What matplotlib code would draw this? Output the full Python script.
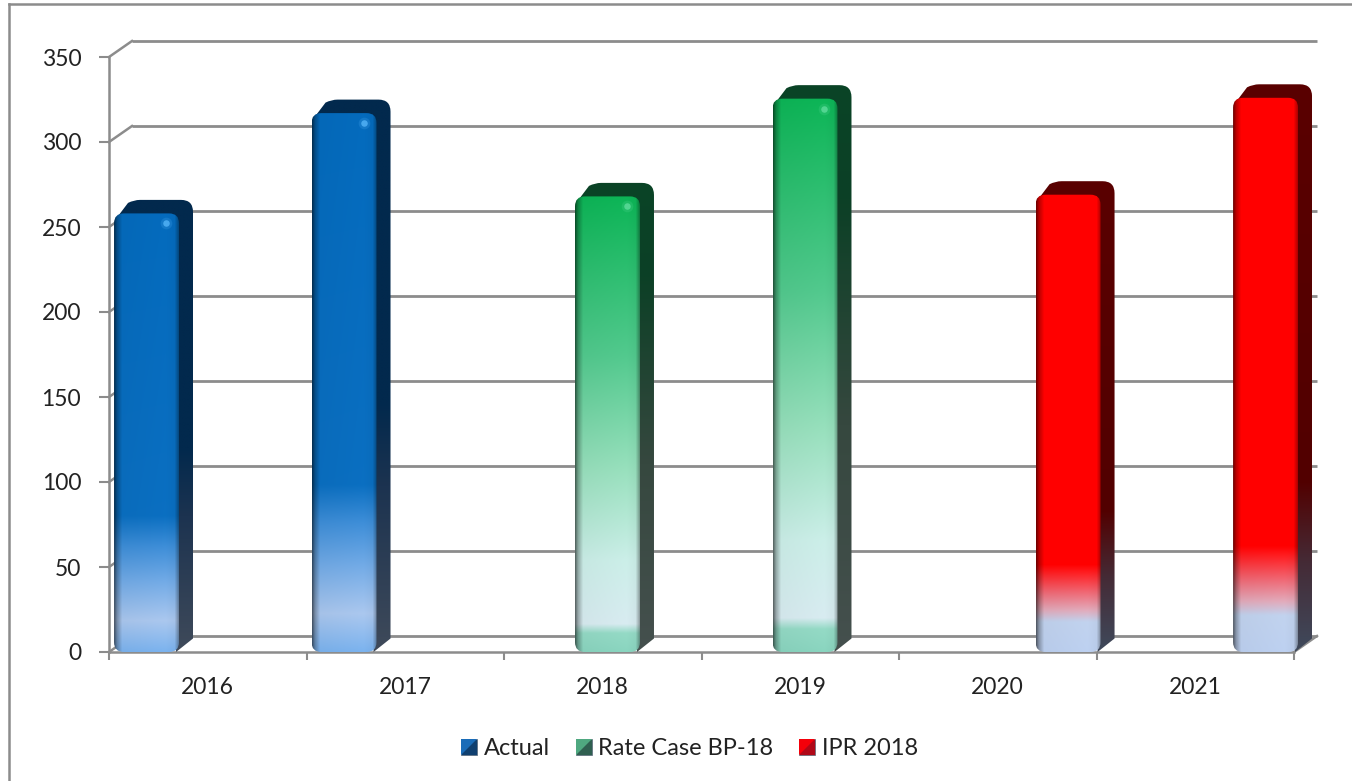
import numpy as np
import matplotlib
matplotlib.use("Agg")
import matplotlib.pyplot as plt
from matplotlib.colors import to_rgb
from matplotlib.legend_handler import HandlerPatch
from matplotlib.lines import Line2D
from matplotlib.patches import FancyBboxPatch, Patch, PathPatch, Polygon, Rectangle
from matplotlib.path import Path
from matplotlib.transforms import Affine2D

plt.rcParams['font.family'] = ['Lato', 'DejaVu Sans']

# data
years = ['2016', '2017', '2018', '2019', '2020', '2021']
actual = [258, 317, None, None, None, None]
rate_case = [None, None, 268, 325.5, None, None]
ipr = [None, None, None, None, 269, 326]
series_names = ['Actual', 'Rate Case BP-18', 'IPR 2018']

# gradient stops, (fraction of bar height, colour)
blue_stops = [(0, '#78aee8'), (0.07, '#a6c2e8'), (0.16, '#6fa6e0'), (0.24, '#3c8ad2'),
              (0.31, '#0a6cbc'), (1, '#0468b8')]
green_stops = [(0, '#86cfba'), (0.04, '#90d4c0'), (0.06, '#d2e5ea'), (0.2, '#c6e8e2'),
               (0.4, '#94dab8'), (0.65, '#50c48a'), (1, '#0cb054')]
red_stops = [(0, '#b8cbea'), (0.065, '#bccde8'), (0.09, '#dca6b6'), (0.13, '#ea6470'),
             (0.19, '#ff0000'), (1, '#ff0000')]
blue_side = [(0, '#3f4a5a'), (0.3, '#1c3350'), (0.45, '#02294d'), (1, '#02294d')]
green_side = [(0, '#45504e'), (0.4, '#36483f'), (0.8, '#0c4026'), (1, '#0a4426')]
red_side = [(0, '#3f4a5c'), (0.16, '#452a35'), (0.3, '#520000'), (1, '#5a0000')]

styles = [
    dict(values=actual, offset=0.19, stops=blue_stops, side=blue_side, spot='#55b4f8',
         swatch=('#1a6cb8', '#0f3f6f')),
    dict(values=rate_case, offset=0.524, stops=green_stops, side=green_side, spot='#5fdc9c',
         swatch=('#4fa880', '#2f5f50')),
    dict(values=ipr, offset=0.856, stops=red_stops, side=red_side, spot=None,
         swatch=('#f4000a', '#b00818')),
]

W, H = 1352, 781
GREY = '#8c8c8c'
TEXT = '#222222'
BAR_WIDTH = 0.329
PX_X = 1 / 197.5   # one pixel in category units
PX_Y = 350 / 595   # one pixel in value units
DEPTH_X, DEPTH_Y = 14, 13.5  # bar depth, pixels


def stops_rgb(stops, n):
    fr = np.linspace(0, 1, n)
    pos = [s[0] for s in stops]
    cols = np.array([to_rgb(s[1]) for s in stops])
    return np.stack([np.interp(fr, pos, cols[:, k]) for k in range(3)], axis=1)


def draw_bar(ax, x0, value, st):
    x1 = x0 + BAR_WIDTH
    dx, dy = DEPTH_X * PX_X, DEPTH_Y * PX_Y

    # side and top of the bar, one outline with a vertical gradient
    side_img = stops_rgb(st['side'], 256)[:, None, :]
    im = ax.imshow(side_img, extent=[x0, x1 + dx, 0, value + dy], origin='lower', aspect='auto',
                   zorder=3, interpolation='bilinear')
    top = value + dy
    verts = [(x1 - 3 * PX_X, 0), (x1 + dx, dy), (x1 + dx, top - 12 * PX_Y),
             (x1 + dx, top), (x1 + dx - 12 * PX_X, top),
             (x0 + 26 * PX_X, top), (x0 + 20 * PX_X, top), (x0 + 14 * PX_X, top - 3 * PX_Y),
             (x0 + 3 * PX_X, value - 4 * PX_Y), (x1 - 3 * PX_X, value - 4 * PX_Y),
             (x1 - 3 * PX_X, 0)]
    codes = [Path.MOVETO, Path.LINETO, Path.LINETO, Path.CURVE3, Path.CURVE3,
             Path.LINETO, Path.CURVE3, Path.CURVE3, Path.LINETO, Path.LINETO, Path.CLOSEPOLY]
    outline = PathPatch(Path(verts, codes), fc='none', ec='none', transform=ax.transData)
    im.set_clip_box(ax.figure.bbox)
    im.set_clip_path(outline)

    # front face, vertical gradient with shaded edges
    n_h, n_w = 300, 66
    column = stops_rgb(st['stops'], n_h)
    t = np.linspace(0, 1, n_w)
    shade = np.interp(t, [0, 0.04, 0.12, 0.8, 0.94, 1], [0.45, 0.72, 1, 1.03, 1.0, 0.7])
    front = np.clip(column[:, None, :] * shade[None, :, None], 0, 1)
    patch = FancyBboxPatch((x0, 0), BAR_WIDTH, value, boxstyle='round,pad=0,rounding_size=0.05',
                           mutation_aspect=PX_Y / PX_X, fc='none', ec='none', zorder=4,
                           clip_on=False)
    ax.add_patch(patch)
    im = ax.imshow(front, extent=[x0, x1, 0, value], origin='lower', aspect='auto', zorder=4,
                   interpolation='bilinear')
    im.set_clip_box(ax.figure.bbox)
    im.set_clip_path(patch)

    # small highlight near the top corner
    if st['spot'] is not None:
        sx, sy = x1 - 13 * PX_X, value - 10 * PX_Y
        ax.scatter([sx], [sy], s=70, color=st['spot'], alpha=0.2, lw=0, zorder=5, clip_on=False)
        ax.scatter([sx], [sy], s=22, color=st['spot'], alpha=0.8, lw=0, zorder=5, clip_on=False)


class SwatchHandler(HandlerPatch):
    # square split along the diagonal, like the bevelled legend keys
    def create_artists(self, legend, orig_handle, xdescent, ydescent, width, height, fontsize,
                       trans):
        x, y = -xdescent, -ydescent
        dark = Rectangle((x, y), width, height, fc=orig_handle.get_edgecolor(), ec='#5a6a7a',
                         lw=0.5, transform=trans)
        light = Polygon([(x, y), (x, y + height), (x + width, y + height)], closed=True,
                        fc=orig_handle.get_facecolor(), ec='none', transform=trans)
        return [dark, light]


fig = plt.figure(figsize=(W / 100, H / 100), dpi=100, facecolor='white')
ax = fig.add_axes([109 / W, 1 - 652 / H, 1185 / W, 595 / H])
ax.set_xlim(0, 6)
ax.set_ylim(0, 350)
ax.set_facecolor('none')

# outer frame, only left and top show
fig.add_artist(Line2D([9 / W, 9 / W], [0, 1 - 4 / H], color=GREY, lw=1.8, transform=fig.transFigure))
fig.add_artist(Line2D([9 / W, 1], [1 - 4 / H, 1 - 4 / H], color=GREY, lw=1.8,
                      transform=fig.transFigure))

# back wall, floor lines and the slanted lines at the left
to_back = ax.transData + Affine2D().translate(23, 16)
yticks = np.arange(0, 351, 50)
ax.hlines(yticks, 0, 6, color=GREY, lw=2, transform=to_back, zorder=1, clip_on=False)
for y in yticks:
    ax.plot([0, 23 * PX_X], [y, y + 16 * PX_Y], color=GREY, lw=1.8, zorder=1, clip_on=False)
ax.plot([6, 6 + 23 * PX_X], [0, 16 * PX_Y], color=GREY, lw=1.8, zorder=1, clip_on=False)

for spine in ['top', 'right']:
    ax.spines[spine].set_visible(False)
for spine in ['left', 'bottom']:
    ax.spines[spine].set_color(GREY)
    ax.spines[spine].set_linewidth(1.8)
    ax.spines[spine].set_zorder(2)

ax.set_yticks(yticks)
ax.tick_params(axis='y', length=7, width=1.5, color=GREY, labelcolor=TEXT, labelsize=16.5, pad=13)
ax.set_xticks(np.arange(7))
ax.set_xticklabels([])
ax.tick_params(axis='x', which='major', length=5.5, width=1.5, color=GREY)
ax.set_xticks(np.arange(6) + 0.5, minor=True)
ax.set_xticklabels(years, minor=True)
ax.tick_params(axis='x', which='minor', length=0, labelcolor=TEXT, labelsize=16.5, pad=18)

for st in styles:
    for i, v in enumerate(st['values']):
        if v is not None:
            draw_bar(ax, i + st['offset'] - BAR_WIDTH / 2, v, st)
ax.set_xlim(0, 6)
ax.set_ylim(0, 350)

handles = [Patch(fc=st['swatch'][0], ec=st['swatch'][1], label=name)
           for st, name in zip(styles, series_names)]
fig.legend(handles=handles, handler_map={Patch: SwatchHandler()}, loc='center',
           bbox_to_anchor=(689.5 / W, 1 - 748.5 / H), ncols=3, frameon=False, fontsize=17,
           labelcolor=TEXT, handlelength=0.68, handleheight=0.64, handletextpad=0.28,
           columnspacing=1.1)

fig.savefig('out.png', dpi=100)
